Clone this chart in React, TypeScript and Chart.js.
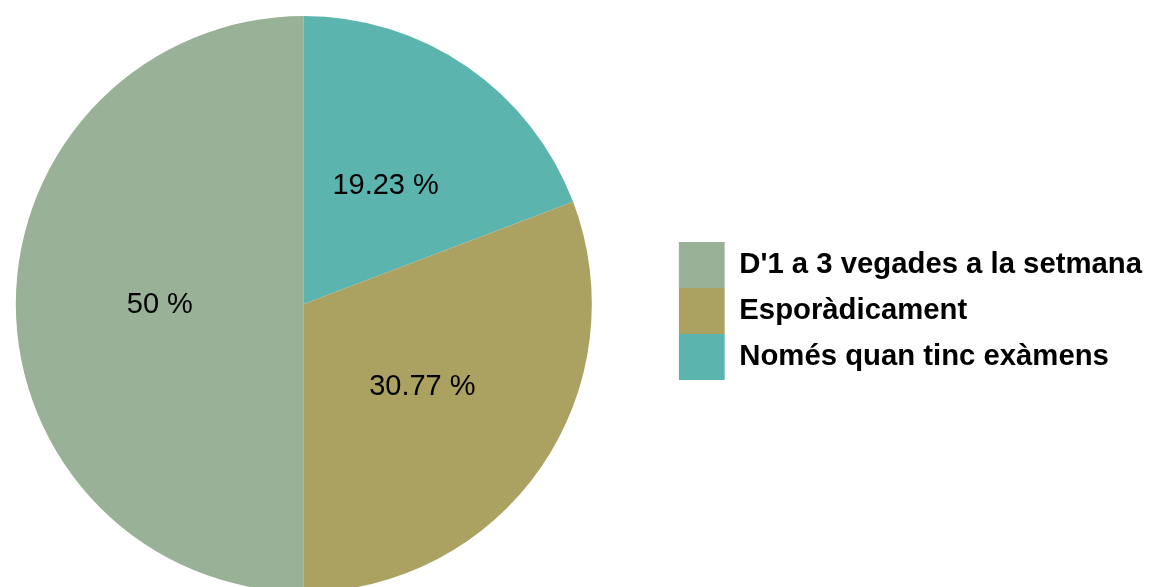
import React, { useEffect, useRef } from "react";
import { Chart, registerables } from "chart.js";

Chart.register(...registerables);

// Slices listed clockwise from 12 o'clock
const categories = ["Només quan tinc exàmens", "Esporàdicament", "D'1 a 3 vegades a la setmana"];
const percentages = [19.23, 30.77, 50];
const sliceColors = ["#5BB4AE", "#ABA262", "#99B196"];

const FONT = "'Liberation Sans', Arial, sans-serif";

const pctLabels = {
  id: "pctLabels",
  afterDatasetsDraw(chart: any) {
    const ctx = chart.ctx;
    const meta = chart.getDatasetMeta(0);
    ctx.save();
    ctx.font = `29px ${FONT}`;
    ctx.fillStyle = "#000";
    ctx.textAlign = "center";
    ctx.textBaseline = "middle";
    meta.data.forEach((arc: any, i: number) => {
      const p = arc.tooltipPosition();
      ctx.fillText(`${percentages[i]} %`, p.x, p.y + 1);
    });
    ctx.restore();
  },
};

export default function App() {
  const ref = useRef<HTMLCanvasElement>(null);
  useEffect(() => {
    document.body.style.overflow = "hidden";
    const chart = new Chart(ref.current!, {
      type: "pie",
      data: {
        labels: categories,
        datasets: [
          {
            data: percentages,
            backgroundColor: sliceColors,
            borderWidth: 0,
            hoverBorderWidth: 0,
            hoverOffset: 0,
          },
        ],
      },
      options: {
        animation: false,
        responsive: false,
        maintainAspectRatio: false,
        layout: { padding: { top: 16, bottom: 16, left: 0, right: 0 } },
        plugins: {
          tooltip: { enabled: false },
          legend: {
            position: "right",
            reverse: true,
            align: "center",
            title: { display: true, text: "", padding: { top: 2, bottom: 0 }, font: { size: 10 } },
            labels: {
              boxWidth: 46,
              boxHeight: 46,
              padding: 0,
              color: "#000",
              font: { family: FONT, size: 29.3, weight: "bold" },
            },
          },
        },
      },
      plugins: [pctLabels],
    });
    return () => chart.destroy();
  }, []);
  return (
    <div style={{ position: "fixed", left: -71, top: 0, width: 1223, height: 608 }}>
      <canvas ref={ref} width={1223} height={608} style={{ width: 1223, height: 608 }} />
    </div>
  );
}
